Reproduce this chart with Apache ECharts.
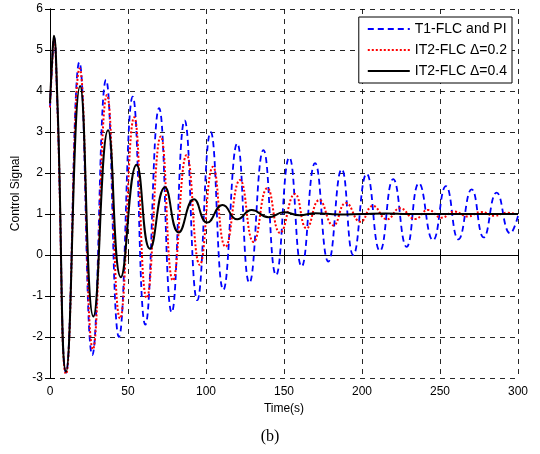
<!DOCTYPE html>
<html>
<head>
<meta charset="utf-8">
<script src="https://cdn.jsdelivr.net/npm/echarts@6/dist/echarts.min.js"></script>
<style>
  html, body { margin: 0; padding: 0; background: #fff; }
  #chart { width: 540px; height: 454px; }
</style>
</head>
<body>
<div id="chart"></div>
<script>
// x ticks / y ticks
var xTicks = [0, 50, 100, 150, 200, 250, 300];
var yTicks = [-3, -2, -1, 0, 1, 2, 3, 4, 5, 6];

// T1-FLC and PI  (time, value) read from peaks and troughs
var t1Flc = [
    [0, 3.6], [1.3, 4.6], [2.6, 5.3], [4.6, 3.8], [10.3, -2.87], [18.8, 4.7],
    [27.1, -2.44], [35.9, 4.27], [44.2, -2.0], [53, 3.86], [61.1, -1.7],
    [69.9, 3.58], [78, -1.4], [86.3, 3.28], [94.4, -1.1], [103, 3.0],
    [111.1, -0.85], [120, 2.72], [127.8, -0.68], [136.8, 2.56], [144.9, -0.49],
    [153.4, 2.38], [161.3, -0.28], [169.9, 2.24], [178.4, -0.16], [187, 2.09],
    [194.4, 0.0], [203, 1.98], [211.5, 0.1], [220, 1.85], [228.6, 0.2],
    [236.5, 1.75], [245.5, 0.36], [253.8, 1.68], [261.8, 0.38], [270.3, 1.6],
    [278, 0.43], [286.3, 1.52], [295, 0.53], [300, 0.95]
];

// IT2-FLC delta = 0.2
var it2Flc02 = [
    [0, 3.6], [1.3, 4.6], [2.6, 5.25], [4.6, 3.8], [10.3, -2.9], [19, 4.55],
    [27.5, -2.3], [36.5, 3.9], [44.9, -1.55], [54, 3.36], [62, -1.05],
    [71, 2.89], [78.8, -0.62], [87.6, 2.44], [96, -0.24], [104.5, 2.15],
    [112.5, 0.2], [121.8, 1.83], [130.5, 0.32], [139.3, 1.63], [147.5, 0.54],
    [157, 1.49], [164.5, 0.65], [172.6, 1.34], [181.6, 0.72], [189.7, 1.27],
    [199, 0.81], [207, 1.2], [216, 0.87], [224.4, 1.14], [234, 0.88],
    [242.5, 1.1], [251, 0.91], [259, 1.06], [268, 0.94], [276, 1.05],
    [285, 0.96], [293, 1.03], [300, 0.99]
];

// IT2-FLC delta = 0.4
var it2Flc04 = [
    [0, 3.7], [1.3, 4.7], [2.5, 5.35], [4.8, 3.7], [10.3, -2.85], [19.3, 4.12],
    [27.8, -1.5], [37.2, 3.04], [45.4, -0.54], [55.5, 2.2], [64.1, 0.15],
    [73.7, 1.65], [82.5, 0.55], [92.3, 1.36], [100.8, 0.79], [110.7, 1.22],
    [120, 0.87], [129.3, 1.1], [140, 0.92], [150, 1.04], [160, 0.97],
    [170, 1.02], [185, 0.99], [200, 1.0], [215, 1.01], [230, 1.0],
    [260, 1.0], [300, 1.0]
];

var cFont = 'Liberation Sans, Arial, sans-serif';
var oChart = echarts.init(document.getElementById('chart'));

// 网格虚线
var oSplit = { show: true, lineStyle: { color: '#000', width: 1, type: [5, 5], opacity: 0.85 } };

var oOpt = {
    animation: false,
    backgroundColor: '#fff',
    grid: { left: 50, right: 22, top: 9, bottom: 76, containLabel: false },
    legend: {
        right: 28, top: 17,
        orient: 'vertical',
        backgroundColor: '#fff',
        borderColor: '#000',
        borderWidth: 1,
        borderRadius: 0,
        padding: [5, 5, 5, 8],
        itemGap: 7,
        itemWidth: 42,
        itemHeight: 16,
        itemStyle: { opacity: 0 },
        textStyle: { fontFamily: cFont, fontSize: 14, color: '#000' },
        data: ['T1-FLC and PI', 'IT2-FLC \u0394=0.2', 'IT2-FLC \u0394=0.4']
    },
    xAxis: [{
        type: 'value', min: 0, max: 300, interval: 50,
        name: 'Time(s)', nameLocation: 'middle', nameGap: 25,
        nameTextStyle: { fontFamily: cFont, fontSize: 12, color: '#000' },
        axisLine: { lineStyle: { color: '#000', width: 1 } },
        axisTick: { inside: true, length: 5, lineStyle: { color: '#000' } },
        axisLabel: { fontFamily: cFont, fontSize: 12, color: '#000', margin: 8 },
        splitLine: oSplit
    }, {
        type: 'value', min: 0, max: 300, interval: 50, position: 'top',
        axisLine: { show: true, lineStyle: { color: '#000', width: 1 } },
        axisTick: { inside: true, length: 5, lineStyle: { color: '#000' } },
        axisLabel: { show: false },
        splitLine: { show: false }
    }],
    yAxis: [{
        type: 'value', min: -3, max: 6, interval: 1,
        name: 'Control Signal', nameLocation: 'middle', nameGap: 21,
        nameTextStyle: { fontFamily: cFont, fontSize: 12, color: '#000' },
        axisLine: { show: true, lineStyle: { color: '#000', width: 1 } },
        axisTick: { show: true, inside: true, length: 5, lineStyle: { color: '#000' } },
        axisLabel: { fontFamily: cFont, fontSize: 12, color: '#000', margin: 7 },
        splitLine: oSplit
    }, {
        type: 'value', min: -3, max: 6, interval: 1, position: 'right',
        axisLine: { show: true, lineStyle: { color: '#000', width: 1 } },
        axisTick: { show: true, inside: true, length: 5, lineStyle: { color: '#000' } },
        axisLabel: { show: false },
        splitLine: { show: false }
    }],
    series: [{
        name: 'T1-FLC and PI', type: 'line', data: t1Flc,
        smooth: 0.5, symbol: 'none', color: '#0000ff',
        lineStyle: { color: '#0000ff', width: 1.8, type: [6, 4] }
    }, {
        name: 'IT2-FLC \u0394=0.2', type: 'line', data: it2Flc02,
        smooth: 0.5, symbol: 'none', color: '#ff0000',
        lineStyle: { color: '#ff0000', width: 2, type: [2, 2] }
    }, {
        name: 'IT2-FLC \u0394=0.4', type: 'line', data: it2Flc04,
        smooth: 0.5, symbol: 'none', color: '#000',
        lineStyle: { color: '#000', width: 2, type: 'solid' }
    }],
    graphic: [{
        type: 'text', left: 'center', top: 429,
        style: { text: '(b)', font: '16px "Liberation Serif", "Times New Roman", serif', fill: '#000' }
    }]
};

oChart.setOption(oOpt);
</script>
</body>
</html>
